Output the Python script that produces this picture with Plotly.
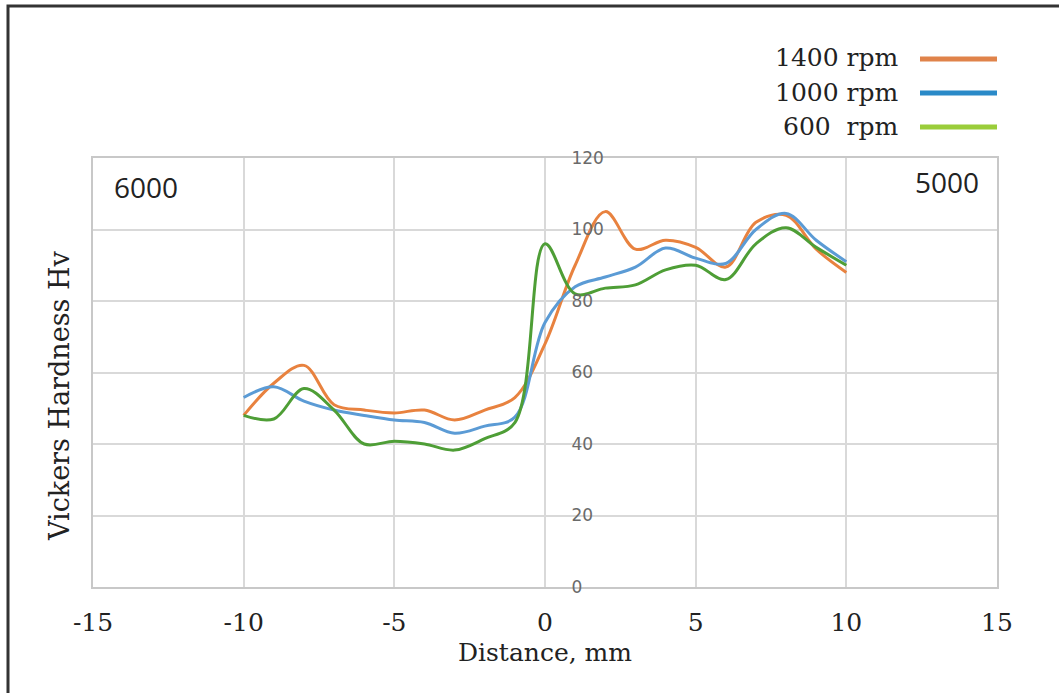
import plotly.graph_objects as go

distance_mm = [-10, -9, -8, -7, -6, -5, -4, -3, -2, -1, 0, 1, 2, 3, 4, 5, 6, 7, 8, 9, 10]
hv_1400 = [48, 57, 62, 51, 49.5, 48.7, 49.5, 46.7, 49.5, 53, 68, 90, 105, 94.5, 97, 95, 89.5, 102, 104, 94.5, 88]
hv_1000 = [53, 56, 52, 49.5, 48, 46.7, 46, 43, 45, 47.5, 74, 84, 86.7, 89.5, 94.8, 92, 90.5, 100, 104.5, 97, 91]
hv_600 = [48, 47, 55.5, 49.5, 40, 40.8, 40, 38.3, 41.5, 46, 96, 82, 83.6, 84.5, 88.7, 90, 86, 96, 100.5, 95, 90]

series_names = ["1400 rpm", "1000 rpm", "600  rpm"]
line_colors = ["#E8823F", "#5B9BD5", "#4E9E36"]
legend_colors = ["#E0834A", "#2A8AC8", "#9ACD3A"]
x_ticks = [-15, -10, -5, 0, 5, 10, 15]
x_tick_text = ["-15", "-10", "-5", "0", "5", "10", "15"]
y_ticks = [0, 20, 40, 60, 80, 100, 120]
side_labels = ["6000", "5000"]
x_title = "Distance, mm"
y_title = "Vickers Hardness Hv"

W, H = 1059, 693
L, R, T, B = 93, 62, 158, 106
pw, ph = W - L - R, H - T - B


def px(xp):
    return (xp - L) / pw


def py(yp):
    return (H - B - yp) / ph


fig = go.Figure()
for name, vals, col in zip(series_names, [hv_1400, hv_1000, hv_600], line_colors):
    fig.add_trace(go.Scatter(x=distance_mm, y=vals, mode="lines", name=name,
                             line=dict(color=col, width=3, shape="spline", smoothing=1.0),
                             showlegend=False))
# carrier for the secondary (label-only) y axis
fig.add_trace(go.Scatter(x=[None], y=[None], yaxis="y2", mode="lines", showlegend=False, hoverinfo="skip"))

serif = "DejaVu Serif"
fig.update_layout(
    width=W, height=H,
    margin=dict(l=L, r=R, t=T, b=B),
    paper_bgcolor="white", plot_bgcolor="white",
    xaxis=dict(range=[-15, 15], tickvals=x_ticks, ticktext=x_tick_text, showgrid=True, gridcolor="#d9d9d9", gridwidth=2,
               zeroline=False, showline=True, mirror=True, linecolor="#c8c8c8", linewidth=2,
               ticks="outside", ticklen=12, tickcolor="rgba(0,0,0,0)", automargin=False,
               tickfont=dict(family=serif, size=25, color="#222222"),
               title=dict(text=x_title, font=dict(family=serif, size=25, color="#222222"), standoff=7)),
    yaxis=dict(range=[0, 120], tickvals=y_ticks, showgrid=True, gridcolor="#d9d9d9", gridwidth=2,
               zeroline=False, showline=True, mirror=True, linecolor="#c8c8c8", linewidth=2,
               showticklabels=False, ticks="", automargin=False),
    yaxis2=dict(range=[0, 120], tickvals=y_ticks, overlaying="y", anchor="free", position=px(545), side="right",
                showgrid=False, zeroline=False, showline=False, ticks="outside", ticklen=22,
                tickcolor="rgba(0,0,0,0)", automargin=False,
                tickfont=dict(family="DejaVu Sans", size=17, color="#6a6a6a")),
)

# y-axis title (offset downward as in the original)
fig.add_annotation(xref="paper", yref="paper", x=px(59), y=py(396), text=y_title, showarrow=False, textangle=-90,
                   xanchor="center", yanchor="middle", font=dict(family=serif, size=27, color="#222222"))

# outer frame
fig.add_shape(type="rect", xref="paper", yref="paper", x0=px(8), x1=px(1075), y0=py(710), y1=py(6),
              line=dict(color="#333333", width=3), layer="above")

# legend (text left of swatch)
leg_y = [58, 92, 126]
for name, col, yy in zip(series_names, legend_colors, leg_y):
    fig.add_annotation(xref="paper", yref="paper", x=px(901), y=py(yy), text=name, showarrow=False,
                       xanchor="right", yanchor="middle", font=dict(family=serif, size=25, color="#222222"))
    fig.add_shape(type="line", xref="paper", yref="paper", x0=px(920), x1=px(997), y0=py(yy + 1), y1=py(yy + 1),
                  line=dict(color=col, width=5))

fig.add_annotation(xref="paper", yref="paper", x=px(112), y=py(187), text=side_labels[0], showarrow=False,
                   xanchor="left", yanchor="middle", font=dict(family="Open Sans", size=28, color="#222222"))
fig.add_annotation(xref="paper", yref="paper", x=px(981), y=py(182), text=side_labels[1], showarrow=False,
                   xanchor="right", yanchor="middle", font=dict(family="Open Sans", size=28, color="#222222"))

fig.write_html("out.html", config={"displayModeBar": False},
               post_script="document.body.style.margin='0';document.body.style.overflow='hidden';")
